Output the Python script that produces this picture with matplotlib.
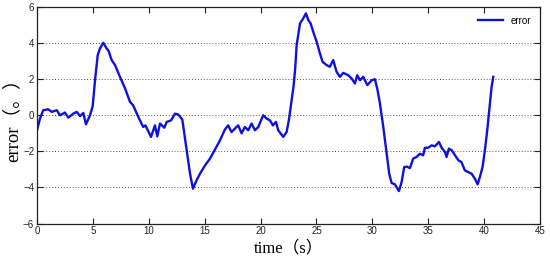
import numpy as np
import matplotlib
matplotlib.use('Agg')
import matplotlib.pyplot as plt

# error curve (time in s, error in degrees)
time_s = [0, 0.27, 0.56, 1.0, 1.31, 1.76, 2.06, 2.5, 2.8, 3.25, 3.55, 3.85, 4.14, 4.38,
          4.74, 4.98, 5.19, 5.43, 5.63, 5.93, 6.23, 6.38, 6.68, 6.98, 7.42, 7.87, 8.32,
          8.6, 9.06, 9.5, 9.7, 10.2, 10.55, 10.76, 11.0, 11.39, 11.6, 12.0, 12.34, 12.64,
          13.0, 13.39, 13.69, 13.95, 14.28, 14.58, 15.03, 15.48, 15.92, 16.37, 16.8, 17.1,
          17.4, 17.7, 18.0, 18.3, 18.6, 18.9, 19.2, 19.5, 19.8, 20.1, 20.24, 20.55, 20.84,
          21.1, 21.38, 21.58, 22.03, 22.33, 22.55, 22.8, 22.95, 23.1, 23.23, 23.53, 23.82,
          24.06, 24.27, 24.48, 24.71, 25.02, 25.31, 25.55, 25.91, 26.2, 26.5, 26.8, 27.1,
          27.4, 27.84, 28.15, 28.44, 28.65, 28.9, 29.19, 29.55, 29.94, 30.23, 30.44, 30.68,
          30.98, 31.28, 31.51, 31.73, 32.02, 32.17, 32.38, 32.62, 32.85, 33.1, 33.36, 33.66,
          33.96, 34.26, 34.55, 34.7, 35.0, 35.3, 35.6, 35.96, 36.2, 36.5, 36.64, 36.85,
          37.1, 37.4, 37.7, 37.97, 38.28, 38.58, 38.88, 39.18, 39.42, 39.62, 39.86, 40.07,
          40.28, 40.46, 40.67, 40.82]
error_deg = [-0.83, -0.17, 0.28, 0.33, 0.19, 0.28, 0.0, 0.15, -0.13, 0.09, 0.19, -0.05, 0.13, -0.5,
             0.0, 0.5, 1.94, 3.33, 3.7, 4.02, 3.7, 3.6, 3.06, 2.78, 2.13, 1.5, 0.74,
             0.55, -0.09, -0.65, -0.56, -1.2, -0.56, -1.17, -0.46, -0.69, -0.37, -0.28, 0.09, 0.04,
             -0.24, -1.94, -3.24, -4.07, -3.6, -3.24, -2.78, -2.4, -1.9, -1.39, -0.8, -0.56,
             -0.93, -0.74, -0.56, -1.0, -0.65, -0.83, -0.46, -0.83, -0.65, -0.19, 0.0, -0.19, -0.28,
             -0.56, -0.37, -0.83, -1.2, -0.93, -0.2, 0.9, 1.6, 2.6, 3.9, 5.09, 5.37,
             5.65, 5.28, 5.09, 4.63, 4.07, 3.43, 2.96, 2.78, 2.69, 3.06, 2.41, 2.13,
             2.35, 2.22, 2.04, 1.76, 2.22, 1.94, 2.13, 1.67, 1.94, 2.0, 1.48, 0.65,
             -0.65, -2.13, -3.24, -3.76, -3.83, -3.98, -4.2, -3.7, -2.87, -2.85, -2.93, -2.4,
             -2.31, -2.13, -2.22, -1.8, -1.8, -1.67, -1.72, -1.48, -1.8, -2.04, -2.31, -1.85,
             -1.94, -2.22, -2.5, -2.59, -3.06, -3.15, -3.24, -3.52, -3.83, -3.43, -2.87, -1.94,
             -0.83, 0.28, 1.57, 2.13]

x_ticks = [0, 5, 10, 15, 20, 25, 30, 35, 40, 45]
y_ticks = [-6, -4, -2, 0, 2, 4, 6]

label_font = ['Liberation Serif', 'Noto Sans CJK SC']

fig = plt.figure(figsize=(5.5, 2.64), dpi=100)
ax = fig.add_axes([0.0673, 0.1534, 0.9145, 0.82])

ax.plot(time_s, error_deg, color='#1010dc', linewidth=1.7, label='error')

ax.set_xlim(0, 45)
ax.set_ylim(-6, 6)
ax.set_xticks(x_ticks)
ax.set_yticks(y_ticks)
ax.tick_params(direction='in', top=True, right=True, length=4, width=0.8,
               labelsize=7, colors='#222222', pad=2)
for lab in ax.get_xticklabels() + ax.get_yticklabels():
    lab.set_family('Liberation Sans')

# dotted horizontal grid at the inner ticks only
for yv in y_ticks[1:-1]:
    ax.axhline(yv, color='#555555', linestyle=(0, (1, 2)), linewidth=0.7, zorder=0)

for sp in ax.spines.values():
    sp.set_linewidth(0.9)
    sp.set_color('#222222')

ax.set_xlabel('time（s）', family=label_font, fontsize=12, labelpad=3)
ax.set_ylabel('error（。）', family=label_font, fontsize=13.5, labelpad=1)

leg = ax.legend(loc='upper right', frameon=False, fontsize=7, handlelength=2.6,
                borderaxespad=0.5)
for t in leg.get_texts():
    t.set_family('Liberation Sans')

fig.savefig('out.png', dpi=100)
